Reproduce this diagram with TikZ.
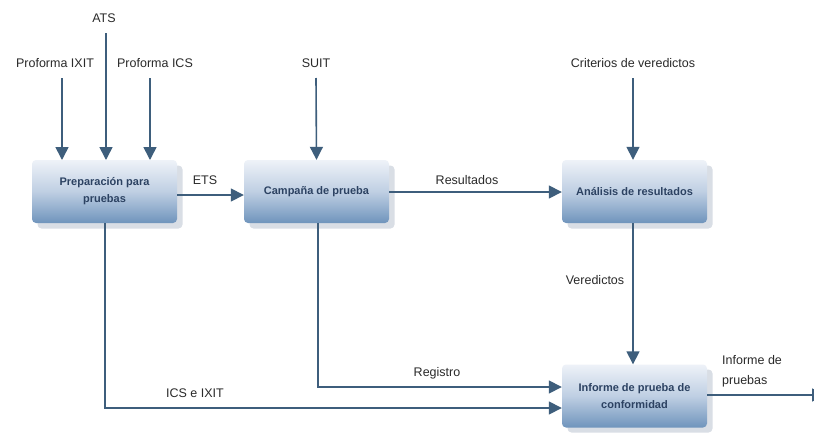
\documentclass[tikz,border=0pt]{standalone}
\usepackage{fontspec}
\setmainfont{Liberation Sans}
\usetikzlibrary{arrows.meta,calc}
\definecolor{arr}{HTML}{3E5E7C}
\definecolor{boxtop}{HTML}{EEF2F8}
\definecolor{boxmid}{HTML}{BFCFE3}
\definecolor{boxbot}{HTML}{6F94BC}
\definecolor{boxtxt}{HTML}{2C4262}
\definecolor{shad}{HTML}{D9DEE5}
\definecolor{lbl}{HTML}{2A2A2A}
\tikzset{
  procbox/.style={rounded corners=4pt, minimum width=145pt, minimum height=63pt,
    top color=boxtop, bottom color=boxbot, middle color=boxmid, draw=none,
    align=center, font=\bfseries\fontsize{11}{17}\selectfont, text=boxtxt},
  shadbox/.style={rounded corners=4pt, minimum width=145pt, minimum height=63pt, fill=shad, draw=none},
  flow/.style={draw=arr, line width=1.6pt, -{Triangle[length=13pt,width=13pt]}},
  lab/.style={font=\fontsize{12.5}{20}\selectfont, text=lbl, inner sep=0pt},
}
\begin{document}
\begin{tikzpicture}[x=1pt,y=-1pt]
\clip (0,0) rectangle (814,434);
\fill[white] (0,0) rectangle (814,434);
% shadows
\node[shadbox] at (110,197) {};
\node[shadbox] at (322,197) {};
\node[shadbox] at (640,197) {};
\node[shadbox] at (640,401) {};
% boxes
\node[procbox] (prep) at (104.5,191.5) {Preparación para\\pruebas};
\node[procbox] (camp) at (316.5,191.5) {Campaña de prueba};
\node[procbox] (anal) at (634.5,191.5) {Análisis de resultados};
\node[procbox] (inf) at (634.5,396) {Informe de prueba de\\conformidad};
% labels
\node[lab] (ixit) at (55,63) {Proforma IXIT};
\node[lab] (ats) at (104,18) {ATS};
\node[lab] (ics) at (155,63) {Proforma ICS};
\node[lab] (suit) at (316,63) {SUIT};
\node[lab] (crit) at (633,63) {Criterios de veredictos};
\node[lab] at (205,180) {ETS};
\node[lab] at (467,180) {Resultados};
\node[lab] at (595,280) {Veredictos};
\node[lab] at (437,373) {Registro};
\node[lab] at (195,393) {ICS e IXIT};
\node[lab, align=left, anchor=west] at (722,371) {Informe de\\pruebas};
% arrows
\draw[flow] (62,78) -- (62,160);
\draw[flow] (106,33) -- (106,160);
\draw[flow] (150,78) -- (150,160);
\draw[flow] (316,78) -- (camp.north);
\draw[flow] (633,78) -- (anal.north -| 633,0);
\draw[flow] (prep.east |- 0,195) -- (camp.west |- 0,195);
\draw[flow] (camp.east |- 0,192) -- (anal.west |- 0,192);
\draw[flow] (anal.south -| 633,0) -- (inf.north -| 633,0);
\draw[flow] (camp.south -| 318,0) |- (inf.west |- 0,387);
\draw[flow] (prep.south -| 105,0) |- (inf.west |- 0,408);
\coordinate (outend) at (825,395);
\draw[flow] (inf.east |- 0,395) -- (outend);
\end{tikzpicture}
\end{document}
